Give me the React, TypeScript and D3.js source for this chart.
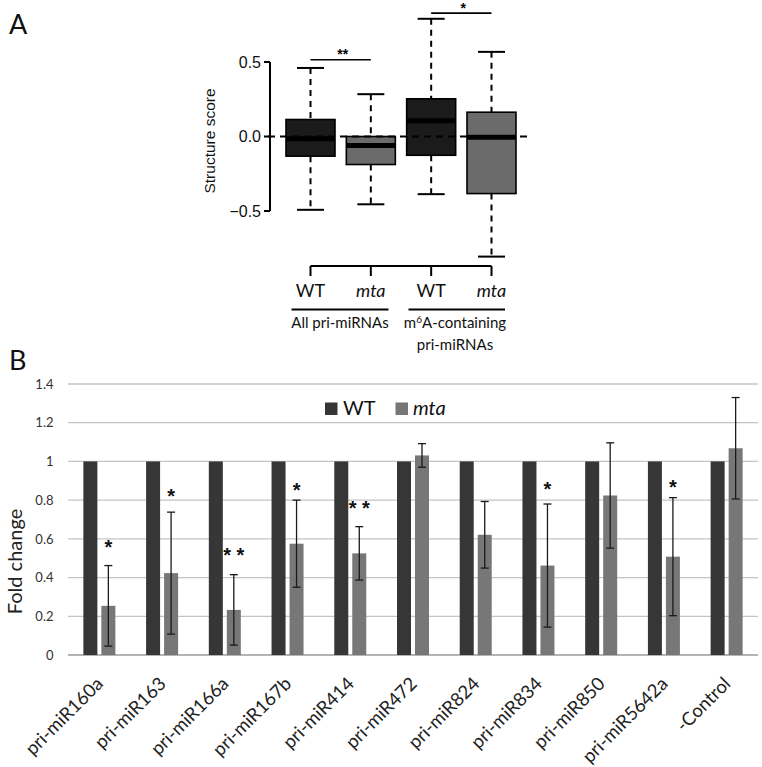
import React from "react";
import * as d3 from "d3";

// ---------- Panel A data ----------
const boxLabels = ["WT", "mta", "WT", "mta"];
const boxIsMutant = [false, true, false, true];
const boxWhiskerHigh = [0.46, 0.284, 0.79, 0.568];
const boxQ3 = [0.114, 0.0, 0.253, 0.163];
const boxMedian = [-0.015, -0.06, 0.105, -0.005];
const boxQ1 = [-0.132, -0.188, -0.126, -0.383];
const boxWhiskerLow = [-0.492, -0.455, -0.387, -0.806];
const boxTicks = [-0.5, 0, 0.5];
const boxTickLabels = ["\u22120.5", "0.0", "0.5"];
const boxSigFrom = [0, 2];
const boxSigTo = [1, 3];
const boxSigLabel = ["**", "*"];
const boxSigY = [0.515, 0.828];

// ---------- Panel B data ----------
const categories = [
  "pri-miR160a", "pri-miR163", "pri-miR166a", "pri-miR167b", "pri-miR414",
  "pri-miR472", "pri-miR824", "pri-miR834", "pri-miR850", "pri-miR5642a", "-Control",
];
const wtValues = [1, 1, 1, 1, 1, 1, 1, 1, 1, 1, 1];
const mtaValues = [0.254, 0.423, 0.233, 0.575, 0.525, 1.031, 0.621, 0.462, 0.824, 0.508, 1.068];
const mtaErrors = [0.208, 0.315, 0.182, 0.225, 0.138, 0.061, 0.172, 0.318, 0.272, 0.305, 0.262];
const sigLabels = ["*", "*", "**", "*", "**", "", "", "*", "", "*", ""];
const sigYValues = [0.58, 0.844, 0.538, 0.871, 0.782, 0, 0, 0.876, 0, 0.889, 0];
const yTicksB = [0, 0.2, 0.4, 0.6, 0.8, 1, 1.2, 1.4];
const seriesNames = ["WT", "mta"];

const WT_BAR = "#363636";
const MTA_BAR = "#777777";
const WT_BOX = "#1b1b1b";
const MTA_BOX = "#6b6b6b";

export default function App() {
  const yA = d3.scaleLinear().domain([-0.5, 0.5]).range([211, 62]);
  const xA = d3.scalePoint<number>().domain([0, 1, 2, 3]).range([310.5, 491.5]);
  const boxHalf = 24.5;
  const capHalf = 13.5;
  const axisXA = 270;

  const xB = d3.scaleBand<string>().domain(categories).range([68, 758]).padding(0);
  const yB = d3.scaleLinear().domain([0, 1.4]).range([655, 384]);
  const barW = 14;
  const gap = 2;

  const latoFont = "Lato, 'Open Sans', sans-serif";
  const arialFont = "'Liberation Sans', Arial, sans-serif";

  return (
    <svg width={762} height={767} style={{ position: "absolute", left: 0, top: 0, background: "#fff" }}>
      <rect x={0} y={0} width={762} height={767} fill="#fff" />
      <text x={9} y={34} fontFamily={latoFont} fontSize={27} fill="#111">A</text>
      <text x={9} y={370} fontFamily={latoFont} fontSize={27} fill="#111">B</text>

      {/* ================= Panel A ================= */}
      <g>
        <line x1={axisXA} x2={axisXA} y1={yA(-0.5)} y2={yA(0.5)} stroke="#000" strokeWidth={2} />
        {boxTicks.map((t, i) => (
          <g key={"ta" + i}>
            <line x1={axisXA - 6} x2={axisXA} y1={yA(t)} y2={yA(t)} stroke="#000" strokeWidth={2} />
            <text x={axisXA - 9} y={yA(t)} dy="0.36em" textAnchor="end" fontFamily={arialFont} fontSize={16} fill="#111">
              {boxTickLabels[i]}
            </text>
          </g>
        ))}
        <text
          transform={`translate(${215},${141}) rotate(-90)`}
          textAnchor="middle"
          fontFamily={arialFont}
          fontSize={15.5}
          fill="#111"
        >
          Structure score
        </text>

        {boxLabels.map((_, i) => {
          const cx = xA(i) as number;
          return (
            <g key={"box" + i}>
              <line x1={cx} x2={cx} y1={yA(boxWhiskerHigh[i])} y2={yA(boxQ3[i])} stroke="#000" strokeWidth={2} strokeDasharray="6,5" />
              <line x1={cx} x2={cx} y1={yA(boxQ1[i])} y2={yA(boxWhiskerLow[i])} stroke="#000" strokeWidth={2} strokeDasharray="6,5" />
              <line x1={cx - capHalf} x2={cx + capHalf} y1={yA(boxWhiskerHigh[i])} y2={yA(boxWhiskerHigh[i])} stroke="#000" strokeWidth={2} />
              <line x1={cx - capHalf} x2={cx + capHalf} y1={yA(boxWhiskerLow[i])} y2={yA(boxWhiskerLow[i])} stroke="#000" strokeWidth={2} />
              <rect
                x={cx - boxHalf}
                y={yA(boxQ3[i])}
                width={boxHalf * 2}
                height={yA(boxQ1[i]) - yA(boxQ3[i])}
                fill={boxIsMutant[i] ? MTA_BOX : WT_BOX}
                stroke="#000"
                strokeWidth={1.6}
              />
              <line x1={cx - boxHalf} x2={cx + boxHalf} y1={yA(boxMedian[i])} y2={yA(boxMedian[i])} stroke="#000" strokeWidth={5} />
            </g>
          );
        })}
        <line x1={axisXA - 2} x2={528} y1={yA(0)} y2={yA(0)} stroke="#000" strokeWidth={2} strokeDasharray="7,5" />

        {boxSigLabel.map((lab, i) => {
          const x1 = xA(boxSigFrom[i]) as number;
          const x2 = xA(boxSigTo[i]) as number;
          const y = yA(boxSigY[i]);
          return (
            <g key={"sigA" + i}>
              <line x1={x1} x2={x2} y1={y} y2={y} stroke="#000" strokeWidth={1.6} />
              <text x={(x1 + x2) / 2 + 2} y={y - 0.5} textAnchor="middle" fontFamily={arialFont} fontSize={14} fontWeight="bold" fill="#000">
                {lab}
              </text>
            </g>
          );
        })}

        <line x1={xA(0) as number} x2={xA(3) as number} y1={266} y2={266} stroke="#000" strokeWidth={2} />
        {boxLabels.map((lab, i) => {
          const cx = xA(i) as number;
          return (
            <g key={"bl" + i}>
              <line x1={cx} x2={cx} y1={266} y2={276} stroke="#000" strokeWidth={2} />
              <text
                x={cx}
                y={297}
                textAnchor="middle"
                fontFamily={latoFont}
                fontSize={18}
                fontStyle={boxIsMutant[i] ? "italic" : "normal"}
                fill="#111"
              >
                {lab}
              </text>
            </g>
          );
        })}
        <line x1={291.5} x2={388.5} y1={309.5} y2={309.5} stroke="#000" strokeWidth={2} />
        <line x1={408.5} x2={505} y1={309.5} y2={309.5} stroke="#000" strokeWidth={2} />
        <text x={340} y={328} textAnchor="middle" fontFamily={latoFont} fontSize={15} fill="#111">
          All pri-miRNAs
        </text>
        <text x={455} y={328} textAnchor="middle" fontFamily={latoFont} fontSize={15} fill="#111">
          m<tspan fontSize={10} dy={-5}>6</tspan>
          <tspan dy={5}>A-containing</tspan>
        </text>
        <text x={455} y={350} textAnchor="middle" fontFamily={latoFont} fontSize={15} fill="#111">
          pri-miRNAs
        </text>
      </g>

      {/* ================= Panel B ================= */}
      <g>
        {yTicksB.map((t, i) => (
          <g key={"gb" + i}>
            <line
              x1={68}
              x2={758}
              y1={yB(t)}
              y2={yB(t)}
              stroke={t === 0 ? "#b4b4b4" : "#c4c4c4"}
              strokeWidth={t === 0 ? 1.8 : 1.3}
            />
            <text x={53.5} y={yB(t)} dy="0.36em" textAnchor="end" fontFamily={latoFont} fontSize={13} fill="#333">
              {String(t)}
            </text>
          </g>
        ))}
        <text
          transform={`translate(${22},${561.5}) rotate(-90)`}
          textAnchor="middle"
          fontFamily={latoFont}
          fontSize={20}
          fill="#222"
        >
          Fold change
        </text>

        {categories.map((c, i) => {
          const cx = (xB(c) as number) + xB.bandwidth() / 2;
          const wx = cx - gap - barW;
          const mx = cx + gap;
          const mc = mx + barW / 2;
          const eTop = yB(mtaValues[i] + mtaErrors[i]);
          const eBot = yB(mtaValues[i] - mtaErrors[i]);
          return (
            <g key={"cat" + i}>
              <rect x={wx} y={yB(wtValues[i])} width={barW} height={yB(0) - yB(wtValues[i])} fill={WT_BAR} />
              <rect x={mx} y={yB(mtaValues[i])} width={barW} height={yB(0) - yB(mtaValues[i])} fill={MTA_BAR} />
              <line x1={mc} x2={mc} y1={eTop} y2={eBot} stroke="#1a1a1a" strokeWidth={1.3} />
              <line x1={mc - 4} x2={mc + 4} y1={eTop} y2={eTop} stroke="#1a1a1a" strokeWidth={1.3} />
              <line x1={mc - 4} x2={mc + 4} y1={eBot} y2={eBot} stroke="#1a1a1a" strokeWidth={1.3} />
              {sigLabels[i] && (
                <text
                  x={mc}
                  y={yB(sigYValues[i]) + 11}
                  textAnchor="middle"
                  fontFamily={arialFont}
                  fontSize={20}
                  fontWeight="bold"
                  fill="#111"
                >
                  {sigLabels[i].split("").join(" ")}
                </text>
              )}
              <text
                transform={`translate(${cx + 5},${685}) rotate(-45)`}
                textAnchor="end"
                fontFamily={latoFont}
                fontSize={18.5}
                fill="#222"
              >
                {c}
              </text>
            </g>
          );
        })}

        <rect x={325} y={402.5} width={12.5} height={12.5} fill={WT_BAR} />
        <text x={343} y={415} fontFamily={latoFont} fontSize={20} fill="#111">{seriesNames[0]}</text>
        <rect x={395.5} y={402.5} width={12.5} height={12.5} fill={MTA_BAR} />
        <text x={413} y={415} fontFamily={latoFont} fontSize={20} fontStyle="italic" fill="#111">{seriesNames[1]}</text>
      </g>
    </svg>
  );
}
